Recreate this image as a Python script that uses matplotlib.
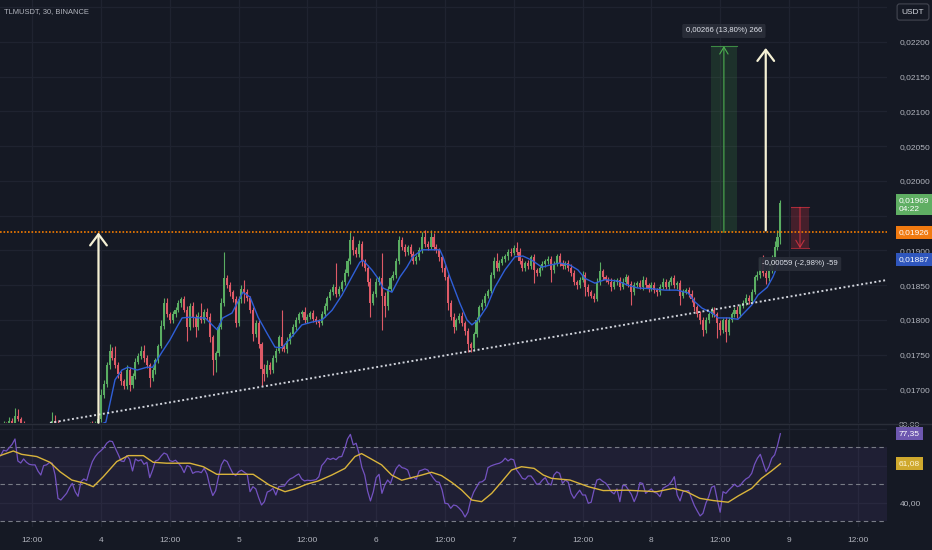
import matplotlib
matplotlib.use('Agg')
import matplotlib.pyplot as plt
import matplotlib.transforms as mtransforms
from matplotlib.patches import Rectangle
from matplotlib.lines import Line2D
import numpy as np

plt.rcParams['font.family'] = ['Liberation Sans', 'DejaVu Sans']

# ---- data (prices in 1e-5 USDT, x = 30-min candle index, 0 = day 4 00:00) ----
first_k = -35
open0 = 1648
closes = [
    1645, 1650, 1648, 1655, 1652, 1662, 1658, 1650, 1645, 1648,
    1640, 1643, 1638, 1642, 1640, 1636, 1640, 1645, 1655, 1652,
    1645, 1640, 1638, 1642, 1640, 1644, 1641, 1645, 1643, 1647,
    1645, 1650, 1648, 1652, 1658,
    1692, 1708, 1735, 1755, 1746, 1735, 1722, 1712, 1705, 1728,
    1706, 1720, 1740, 1748, 1756, 1745, 1735, 1716, 1728, 1742,
    1762, 1792, 1825, 1808, 1800, 1808, 1815, 1824, 1830, 1815,
    1790, 1820, 1805, 1790, 1806, 1800, 1812, 1805, 1775, 1742,
    1752, 1790, 1825, 1860, 1850, 1840, 1830, 1795, 1830, 1845,
    1840, 1832, 1815, 1780, 1795, 1765, 1730, 1722, 1735, 1728,
    1745, 1755, 1775, 1762, 1758, 1770, 1780, 1790, 1800, 1808,
    1812, 1800, 1805, 1810, 1802, 1798, 1796, 1808, 1820, 1832,
    1840, 1848, 1838, 1845, 1855, 1868, 1885, 1915, 1900, 1895,
    1910, 1885, 1875, 1855, 1825, 1838, 1855, 1860, 1835, 1820,
    1845, 1860, 1865, 1885, 1915, 1905, 1898, 1905, 1895, 1885,
    1890, 1900, 1920, 1910, 1905, 1920, 1905, 1900, 1890, 1875,
    1862, 1825, 1805, 1790, 1800, 1806, 1795, 1784, 1765, 1760,
    1780, 1800, 1818, 1825, 1835, 1842, 1865, 1885, 1875, 1882,
    1888, 1892, 1898, 1896, 1904, 1898, 1885, 1875, 1882, 1878,
    1890, 1872, 1868, 1875, 1880, 1885, 1888, 1872, 1880, 1892,
    1882, 1878, 1882, 1875, 1868, 1855, 1850, 1858, 1865, 1848,
    1840, 1835, 1830, 1855, 1870, 1862, 1858, 1855, 1848, 1855,
    1858, 1848, 1855, 1862, 1852, 1840, 1850, 1853, 1848, 1858,
    1850, 1845, 1850, 1843, 1840, 1848, 1855, 1848, 1855, 1860,
    1850, 1853, 1835, 1840, 1843, 1838, 1830, 1818, 1808, 1800,
    1785, 1800, 1808, 1814, 1808, 1795, 1785, 1800, 1783, 1800,
    1808, 1815, 1808, 1820, 1825, 1832, 1828, 1840, 1862, 1865,
    1888, 1868, 1860, 1872, 1888, 1905, 1920, 1969,
]
wick_up = [
    3, 4, 3, 5, 4, 12, 10, 3, 4, 3, 4, 3, 5, 3, 4, 3, 4, 3, 12, 9,
    4, 3, 5, 3, 4, 3, 4, 3, 5, 3, 4, 3, 4, 3, 6,
    8, 5, 4, 10, 6, 16, 5, 4, 3, 7,
    5, 4, 5, 4, 6, 8, 4, 3, 5, 4,
    3, 8, 7, 7, 4, 5, 3, 5, 3, 4,
    5, 4, 6, 3, 5, 18, 4, 5, 5, 4,
    4, 5, 6, 38, 5, 4, 3, 4, 5, 5,
    12, 4, 3, 4, 5, 5, 4, 6, 8, 5,
    4, 5, 4, 40, 4, 5, 3, 4, 5, 4,
    3, 6, 4, 3, 5, 4, 3, 5, 4, 3,
    5, 4, 34, 4, 3, 5, 4, 11, 6, 5,
    5, 4, 3, 4, 5, 4, 5, 4, 36, 5,
    4, 3, 5, 4, 6, 5, 4, 3, 5, 4,
    4, 5, 6, 9, 4, 9, 5, 4, 3, 4,
    5, 4, 4, 5, 3, 4, 5, 4, 5, 4,
    3, 4, 3, 5, 4, 3, 4, 5, 11, 4,
    4, 3, 4, 5, 4, 8, 5, 4, 3, 5,
    4, 5, 3, 4, 5, 3, 4, 4, 5, 3,
    4, 5, 3, 4, 5, 4, 3, 4, 5, 4,
    4, 3, 4, 5, 13, 4, 3, 4, 5, 4,
    3, 4, 5, 4, 3, 4, 5, 3, 4, 5,
    4, 3, 4, 5, 3, 4, 5, 4, 3, 4,
    5, 3, 4, 5, 3, 4, 5, 3, 4, 5,
    4, 5, 3, 4, 5, 4, 5, 3, 4, 5,
    3, 4, 5, 3, 4, 5, 4, 5, 3, 6,
    3, 5, 4, 5, 6, 8, 10, 3,
]
wick_dn = [
    4, 3, 5, 3, 4, 5, 4, 3, 5, 4, 3, 4, 3, 5, 4, 3, 4, 5, 3, 4,
    4, 5, 3, 4, 3, 4, 5, 3, 4, 3, 4, 5, 3, 4, 5,
    5, 4, 4, 5, 3, 4, 5, 6, 5, 4,
    8, 4, 5, 3, 4, 5, 4, 13, 4, 5,
    4, 3, 5, 4, 5, 4, 3, 4, 5, 4,
    20, 4, 15, 14, 4, 5, 4, 5, 6, 21,
    17, 4, 3, 5, 4, 5, 4, 5, 4, 5,
    15, 4, 5, 10, 4, 5, 25, 10, 4, 5,
    4, 5, 3, 6, 4, 5, 4, 3, 4, 5,
    4, 5, 4, 3, 5, 4, 6, 3, 4, 5,
    3, 4, 5, 4, 3, 4, 5, 4, 6, 5,
    4, 8, 5, 6, 20, 4, 5, 4, 49, 15,
    5, 4, 3, 5, 4, 5, 6, 4, 5, 4,
    5, 4, 3, 5, 4, 3, 5, 4, 5, 6,
    5, 11, 5, 9, 4, 5, 4, 5, 11, 6,
    5, 4, 3, 4, 5, 4, 3, 4, 5, 4,
    3, 4, 5, 4, 3, 5, 4, 5, 4, 5,
    4, 19, 5, 4, 3, 4, 5, 17, 4, 3,
    5, 4, 4, 5, 4, 5, 6, 4, 3, 13,
    5, 4, 4, 3, 4, 5, 4, 3, 6, 4,
    4, 5, 3, 4, 5, 18, 4, 3, 4, 5,
    4, 5, 3, 4, 5, 4, 3, 4, 5, 4,
    4, 5, 13, 4, 3, 5, 4, 5, 4, 6,
    8, 4, 5, 3, 4, 21, 6, 4, 15, 4,
    3, 4, 5, 4, 3, 4, 5, 4, 3, 5,
    4, 5, 8, 4, 5, 4, 5, 10,
]

# blue moving average on price, read at these candle positions
ema_k = [-35, -20, -5, 0, 1.7, 4.9, 7.3, 9.4, 12.6, 16, 18, 21.3, 24, 26.5, 28.3,
         31, 34.5, 36.3, 40.5, 42.5, 45.7, 49.5, 52, 54.8, 57.9, 60.7, 63.1, 66.6,
         70.1, 73.6, 77.1, 80.6, 84.1, 87.5, 90.3, 91.4, 94.5, 96.6, 98.4, 101.5,
         104.3, 106.7, 108.8, 112, 118.2, 119.3, 121.7, 125.2, 127.7, 129.4, 131.5,
         134.6, 137.4, 140.9, 144.4, 147.2, 150.3, 153.8, 156.6, 160.1, 163.6, 166.4,
         168.8, 172.3, 175.8, 180.3, 183.8, 187.3, 192.2, 196.7, 200.9, 204.8, 207.2,
         209.7, 213.2, 215.3, 218.8, 222.2, 223.6, 227.1, 229.2, 232.4, 234.4, 236.1, 237]
ema_v = [1645, 1646, 1646, 1650, 1653, 1714, 1728, 1732, 1728, 1732, 1732, 1754, 1771,
         1790, 1803, 1804, 1803, 1803, 1786, 1803, 1810, 1840, 1833, 1804, 1781, 1761,
         1760, 1776, 1793, 1797, 1800, 1814, 1836, 1862, 1883, 1886, 1872, 1860, 1846,
         1840, 1862, 1876, 1891, 1901, 1901, 1891, 1862, 1824, 1800, 1793, 1800, 1819,
         1847, 1872, 1891, 1892, 1886, 1876, 1879, 1882, 1879, 1872, 1860, 1853, 1858,
         1856, 1850, 1846, 1845, 1843, 1843, 1839, 1826, 1817, 1810, 1803, 1803, 1801,
         1807, 1822, 1836, 1847, 1862, 1879, 1887]

rsi = [
    65.5, 68.4, 68, 69.8, 71.6, 74.5, 62.6, 61.5, 63.7, 61.9, 60.8, 60.5, 60.5, 57.2,
    55, 60.1, 60.5, 61.7, 61.4, 55, 42.4, 41.5, 43.3, 45.1, 48.2, 50.5, 46, 43.5, 51.4,
    52.9, 52, 57.7, 62.3, 65, 66.9,
    68.2, 69.8, 72.2, 73.4, 73.1, 69.5, 66.2, 62.6, 62.3, 65.5,
    63.5, 57.2, 63.7, 62.6, 63.3, 60.8, 61.9, 53.6, 57.7, 62.6,
    63.2, 65.3, 66.9, 66.2, 62.8, 62.3, 63, 61.4, 59.5, 56.3,
    60.1, 59.5, 55.9, 56.7, 56.8, 56.3, 58.6, 55.4, 48.7, 43.9,
    46.6, 54.1, 60.5, 63.2, 62.3, 59, 55.9, 54.7, 56.8, 57.6,
    56.5, 55.4, 46, 48.7, 47.5, 42.8, 38.8, 40.6, 45.8, 46.5,
    47.8, 44.2, 48.7, 48.9, 49.1, 51.4, 52.9, 53.6, 54.7, 55.6,
    52.9, 51.8, 52.2, 52, 52.2, 52.5, 54.1, 60.1, 61.9, 64.1,
    63.4, 64.1, 63.3, 64.8, 65, 69.1, 74.5, 77, 71.3, 72.2,
    66.8, 59.2, 55, 46.4, 41, 46, 53.6, 55.4, 45.1, 49.6,
    52.3, 50.5, 55, 58.6, 60.5, 59, 58.6, 57.7, 53.2, 53.8,
    52.7, 57.2, 57.7, 58.3, 57.7, 55.4, 53.2, 51.4, 51.1, 46.9,
    39.7, 39.5, 37, 38.8, 38.4, 37, 35.2, 32.3, 34.9, 41.5,
    45.7, 48.4, 51.1, 51.4, 52.7, 59, 59.9, 60.5, 61, 61.4,
    62.3, 64.1, 62.6, 63.7, 63.2, 57.7, 55.6, 53.2, 52.7, 54.5,
    54.5, 52.5, 50, 50.4, 52.3, 53.6, 50.5, 49.6, 55, 56.7,
    55.9, 50.5, 52.3, 51.1, 45.1, 42.4, 44.8, 46.8, 44.2, 44.2,
    39.7, 40.3, 46.9, 52.3, 52.9, 51.6, 50.7, 48.7, 46, 44.8,
    47.5, 40.6, 49.3, 49.3, 46.9, 44.6, 40.6, 44.2, 50.9, 50.4,
    45.1, 46.4, 47.5, 45.7, 45.1, 43.3, 47.8, 48.7, 49.6, 51.4,
    54.1, 44.2, 41, 46, 46.4, 46.6, 42.4, 38.5, 35.6, 32.9,
    34.3, 39.7, 43.3, 48.4, 49.1, 41.5, 34.9, 46, 45.1, 46.9,
    48.4, 50, 48.7, 49.3, 51.4, 52.9, 53.8, 55.9, 60.8, 64.1,
    66.2, 61.4, 56.8, 59.5, 64.1, 65.9, 70.9, 77.35,
]
rsi_ma_k = [-35.2, -30.6, -27.7, -22.4, -17.8, -14.3, -10.2, -5.6, -2.7, 0.8, 5.5, 9.5,
            14.8, 18.2, 22.9, 31, 35.7, 40.4, 46.1, 53.1, 56.6, 58.7, 60.7, 64.2, 67.7,
            71.7, 75.8, 80.5, 85.1, 88.6, 90.9, 93.8, 97.9, 101.4, 104.9, 108.4, 111.9,
            115.3, 118.8, 122.3, 125.8, 129.3, 132.8, 136.3, 139.8, 143.2, 146.7, 151.1,
            154.3, 157.2, 163.6, 170, 175.2, 183.4, 193.8, 199.6, 204.3, 208.9, 213.6,
            218.8, 222.3, 227, 230.4, 233.9, 237]
rsi_ma_v = [65.5, 68, 66.2, 65, 61.9, 56.8, 52.3, 50.5, 48.7, 54.1, 62.3, 65.5, 65.5,
            61.9, 61.4, 61.4, 59.5, 55.4, 55.4, 55.4, 51.8, 49.6, 48.2, 46, 47.5, 50,
            51.8, 55, 58.6, 65, 66.6, 64.1, 60.5, 55, 52.2, 53.6, 55, 56.5, 54.7, 51.1,
            46.9, 41.5, 40.6, 45.1, 51.4, 57.7, 59.5, 58.6, 55, 53.2, 52.3, 48.7, 46.6,
            46.8, 46, 47.8, 46, 42.4, 41.2, 40.3, 43.7, 47.8, 53.2, 57.2, 61.08]

time_ticks = [-24, 0, 24, 48, 72, 96, 120, 144, 168, 192, 216, 240, 264]
time_labels = ['12:00', '4', '12:00', '5', '12:00', '6', '12:00', '7', '12:00', '8', '12:00', '9', '12:00']

# drawings
level = 0.01926
trend = ([-17.8, 274.2], [0.01652, 0.018576])
arrow1 = (-0.87, 0.01652, 0.01926)
arrow2 = (231.9, 0.01929, 0.021914)
long_box = (212.8, 221.8, 0.01926, 0.021942)
short_box = (240.7, 247.0, 0.019032, 0.019622)
long_label = (217.3, 0.022158, '0,00266 (13,80%) 266')
short_label = (243.8, 0.018806, '-0,00059 (-2,98%) -59')
last_price, last_ema, last_rsi, last_rsi_ma = 0.01969, 0.01887, 77.35, 61.08

assert len(closes) == len(wick_up) == len(wick_dn) == len(rsi)
assert len(ema_k) == len(ema_v) and len(rsi_ma_k) == len(rsi_ma_v)

BG = '#151924'
GRID = '#1f2330'
TXT = '#b2b5be'
UP, DN = '#5aad62', '#de5a67'

c = np.array(closes) / 1e5
o = np.concatenate([[open0 / 1e5], c[:-1]])
hi = np.maximum(o, c) + np.array(wick_up) / 1e5
lo = np.minimum(o, c) - np.array(wick_dn) / 1e5
k = np.arange(first_k, first_k + len(c))
cols = [UP if cc >= oo else DN for oo, cc in zip(o, c)]

fig = plt.figure(figsize=(9.32, 5.5), dpi=100)
fig.patch.set_facecolor(BG)
W = 887 / 932
ax = fig.add_axes([0, 1 - 423 / 550, W, 423 / 550])
rax = fig.add_axes([0, 23 / 550, W, 103 / 550], sharex=ax)
for a in (ax, rax):
    a.set_facecolor(BG)
    for s in a.spines.values():
        s.set_visible(False)
    a.set_xticks(time_ticks)
    a.grid(True, color=GRID, lw=0.9)
    a.set_axisbelow(True)
    a.yaxis.tick_right()
    a.tick_params(length=0, colors=TXT, labelsize=6)

ax.set_xlim(-35.23, 274.2)
ax.set_ylim(0.016518, 0.022604)
rax.set_ylim(26.9, 82.6)

# price pane
levels = np.arange(0.0170, 0.02251, 0.0005)
ax.set_yticks(levels)
ax.set_yticklabels(['' if abs(v - 0.0195) < 1e-6 or v > 0.0224 else f'{v:.5f}'.replace('.', ',')
                    for v in levels])
ax.tick_params(labelbottom=False, pad=9)

ax.vlines(k, lo, hi, colors=cols, lw=0.8, zorder=3)
ax.bar(k, np.maximum(np.abs(c - o), 1.2e-5), bottom=np.minimum(o, c), width=0.72,
       color=cols, lw=0, zorder=3)
ax.plot(ema_k, np.array(ema_v) / 1e5, color='#2f5fd8', lw=1.0, zorder=4)

ax.plot(trend[0], trend[1], color='#d1d4dc', lw=1.4, ls=(0, (1, 1.3)), zorder=4)
ax.axhline(level, color='#f57c00', lw=1.2, ls=(0, (1, 1.1)), zorder=4)

ax.add_patch(Rectangle((long_box[0], long_box[2]), long_box[1] - long_box[0],
                       long_box[3] - long_box[2], fc='#4caf50', alpha=0.16, lw=0, zorder=2))
ax.plot(long_box[:2], [long_box[3]] * 2, color='#4caf50', lw=0.8, alpha=0.7, zorder=2)
ax.annotate('', xy=((long_box[0] + long_box[1]) / 2, long_box[3]),
            xytext=((long_box[0] + long_box[1]) / 2, long_box[2]),
            arrowprops=dict(arrowstyle='->,head_length=0.25,head_width=0.15', color='#4caf50',
                            lw=0.8, mutation_scale=20, shrinkA=0, shrinkB=0), zorder=2)
ax.add_patch(Rectangle((short_box[0], short_box[2]), short_box[1] - short_box[0],
                       short_box[3] - short_box[2], fc='#f23645', alpha=0.22, lw=0, zorder=2))
for yv in (short_box[2], short_box[3]):
    ax.plot(short_box[:2], [yv, yv], color='#f23645', lw=0.8, alpha=0.6, zorder=2)
ax.annotate('', xy=((short_box[0] + short_box[1]) / 2, short_box[2]),
            xytext=((short_box[0] + short_box[1]) / 2, short_box[3]),
            arrowprops=dict(arrowstyle='->,head_length=0.25,head_width=0.15', color='#f23645',
                            lw=0.8, alpha=0.7, mutation_scale=20, shrinkA=0, shrinkB=0), zorder=2)

for xa, y0, y1 in (arrow1, arrow2):
    ax.annotate('', xy=(xa, y1), xytext=(xa, y0),
                arrowprops=dict(arrowstyle='->,head_length=0.4,head_width=0.3', color='#f5f1d5',
                                lw=1.6, mutation_scale=20, shrinkA=0, shrinkB=0), zorder=5)

for xl, yl, tl in (long_label, short_label):
    ax.text(xl, yl, tl, ha='center', va='center', fontsize=5.6, color='#e0e3eb', zorder=6,
            bbox=dict(boxstyle='round,pad=0.45,rounding_size=0.2', fc='#2a2e39', ec='none', alpha=0.95))

# price tags on the scale
bt = mtransforms.blended_transform_factory(ax.transAxes, ax.transData)
tx = 899 / 887
def tag(axis, trans, y, txt, fc, tc='white', dy=0, va='center'):
    axis.annotate(txt, xy=(tx, y), xycoords=trans, xytext=(0, dy), textcoords='offset points',
                  ha='left', va=va, fontsize=6, color=tc, zorder=10, annotation_clip=False,
                  linespacing=1.25,
                  bbox=dict(boxstyle='square,pad=0.35', fc=fc, ec='none'))

tag(ax, bt, last_price, '0,01969\n04:22', '#5fae63', dy=3.8, va='top')
tag(ax, bt, level, '0,01926', '#f07a10')
tag(ax, bt, last_ema, '0,01887', '#2f56bd')

# RSI pane
rax.set_yticks([40, 60, 80])
rax.set_yticklabels(['40,00', '', ''])
rax.tick_params(pad=9)
rax.set_xticklabels(time_labels)
rax.tick_params(axis='x', pad=7, labelsize=6)
rax.axhspan(30, 70, color='#7e57c2', alpha=0.1, lw=0)
for lv in (30, 50, 70):
    rax.axhline(lv, color='#787b86', lw=0.8, ls=(0, (4, 3)))
rax.plot(k, rsi, color='#7352c0', lw=0.9, zorder=3)
rax.plot(rsi_ma_k, rsi_ma_v, color='#d9b43c', lw=1.0, zorder=4)

rt = mtransforms.blended_transform_factory(rax.transAxes, rax.transData)
# the 80,00 scale label peeks out just above the RSI value tag
rax.text(tx, 80.6, '80,00', transform=rt, fontsize=6, color=TXT, ha='left', va='bottom',
         clip_on=False)
tag(rax, rt, last_rsi, '77,35', '#6e58b0')
tag(rax, rt, last_rsi_ma, '61,08', '#cfa92e', tc='#fff6d8')

fig.add_artist(Line2D([0, 1], [1 - 423.5 / 550] * 2, color='#2a2e39', lw=1))

fig.text(4 / 932, 1 - 12 / 550, 'TLMUSDT, 30, BINANCE', fontsize=5.4, color=TXT, va='center')
fig.text(913 / 932, 1 - 12 / 550, 'USDT', fontsize=6, color='#d1d4dc', ha='center', va='center',
         bbox=dict(boxstyle='round,pad=0.55,rounding_size=0.3', fc=BG, ec='#434651', lw=0.8))

fig.savefig('out.png', dpi=100, facecolor=BG)
